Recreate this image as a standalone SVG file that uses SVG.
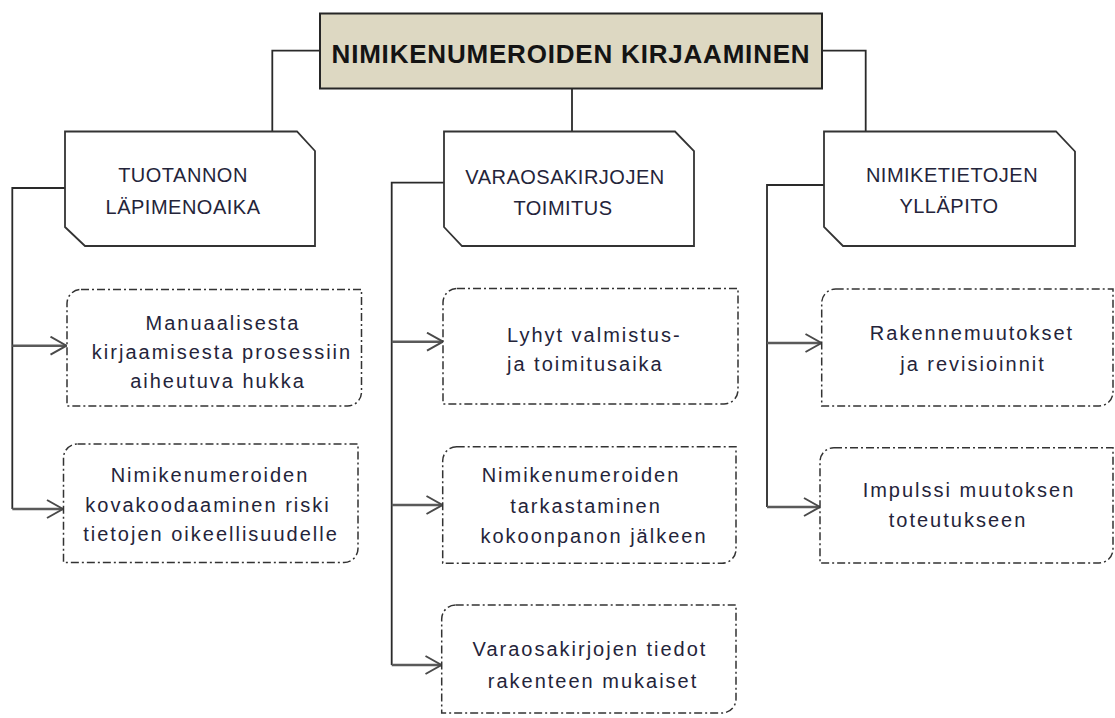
<svg xmlns="http://www.w3.org/2000/svg" width="1115" height="718" viewBox="0 0 1115 718">
  <style>
    .title { font-family: "Liberation Sans", Arial, sans-serif; font-weight: bold; font-size: 26px; letter-spacing: 0.8px; fill: #141414; }
    .cat { font-family: "Liberation Sans", Arial, sans-serif; font-size: 20px; letter-spacing: 0.5px; fill: #24243a; }
    .item { font-family: "Liberation Sans", Arial, sans-serif; font-size: 20px; letter-spacing: 2px; fill: #24243a; }
    .catbox { fill: #ffffff; stroke: #333333; stroke-width: 1.8; }
    .itembox { fill: #ffffff; stroke: #333333; stroke-width: 1.5; stroke-dasharray: 8 3 2 3; }
    .wire { fill: none; stroke: #2a2a2a; stroke-width: 1.8; }
    .branch { fill: none; stroke: #5a5a5a; stroke-width: 2.4; marker-end: url(#chev); }
  </style>
  <defs>
    <marker id="chev" viewBox="0 0 18 20" refX="17" refY="10" markerWidth="18" markerHeight="20" markerUnits="userSpaceOnUse" orient="auto">
      <path d="M1,1 L17,10 L1,19" fill="none" stroke="#4a4a4a" stroke-width="2"/>
    </marker>
  </defs>

  <rect width="1115" height="718" fill="#ffffff"/>

  <!-- connectors -->
  <g id="connectors">
    <!-- title to category boxes -->
    <path class="wire" d="M320,50.7 H272.3 V131.5"/>
    <path class="wire" d="M822,50.7 H865.7 V131.5"/>
    <path class="wire" d="M572,88.5 V131.5"/>
    <!-- trunks -->
    <path class="wire" d="M65,188 H12.3 V509"/>
    <path class="wire" d="M444,182.7 H391.7 V665"/>
    <path class="wire" d="M824,185 H767 V507"/>
    <!-- branches -->
    <path class="branch" d="M12.3,345.7 H66.5"/>
    <path class="branch" d="M12.3,509 H63"/>
    <path class="branch" d="M391.7,341.7 H443"/>
    <path class="branch" d="M391.7,505 H442.5"/>
    <path class="branch" d="M391.7,665 H441.5"/>
    <path class="branch" d="M767,343 H821.5"/>
    <path class="branch" d="M767,507 H820"/>
  </g>

  <!-- root -->
  <g id="root">
    <rect x="320" y="13.5" width="502" height="75" fill="#ddd8c2" stroke="#262626" stroke-width="2"/>
    <text class="title" x="571" y="63" text-anchor="middle">NIMIKENUMEROIDEN KIRJAAMINEN</text>
  </g>

  <!-- categories -->
  <g id="cat-tuotanto">
    <path class="catbox" d="M65,131.5 H297 L315,151 V246 H85 L65,227 Z"/>
    <text class="cat" x="183" y="182" text-anchor="middle">TUOTANNON</text>
    <text class="cat" x="183" y="214" text-anchor="middle">LÄPIMENOAIKA</text>
  </g>
  <g id="cat-varaosa">
    <path class="catbox" d="M444,131.5 H675 L694,151 V246 H462 L444,227 Z"/>
    <text class="cat" x="565" y="184" text-anchor="middle">VARAOSAKIRJOJEN</text>
    <text class="cat" x="563" y="215" text-anchor="middle">TOIMITUS</text>
  </g>
  <g id="cat-nimike">
    <path class="catbox" d="M824,131.5 H1056 L1075,151.5 V246 H843 L824,227 Z"/>
    <text class="cat" x="952" y="182" text-anchor="middle">NIMIKETIETOJEN</text>
    <text class="cat" x="949" y="213" text-anchor="middle">YLLÄPITO</text>
  </g>

  <!-- items: left column -->
  <g id="item-manuaalinen">
    <path class="itembox" d="M81,289.5 H361.5 V392 A14,14 0 0 1 347.5,406 H67 V303.5 A14,14 0 0 1 81,289.5 Z"/>
    <text class="item" x="223" y="330" text-anchor="middle">Manuaalisesta</text>
    <text class="item" x="222" y="359" text-anchor="middle">kirjaamisesta prosessiin</text>
    <text class="item" x="218" y="388" text-anchor="middle">aiheutuva hukka</text>
  </g>
  <g id="item-kovakoodaus">
    <path class="itembox" d="M77.5,444 H358 V548.5 A14,14 0 0 1 344,562.5 H63.5 V458 A14,14 0 0 1 77.5,444 Z"/>
    <text class="item" x="210" y="482" text-anchor="middle">Nimikenumeroiden</text>
    <text class="item" x="208" y="512" text-anchor="middle">kovakoodaaminen riski</text>
    <text class="item" x="211" y="541" text-anchor="middle">tietojen oikeellisuudelle</text>
  </g>

  <!-- items: middle column -->
  <g id="item-lyhyt">
    <path class="itembox" d="M457,288.5 H738 V390 A14,14 0 0 1 724,404 H443 V302.5 A14,14 0 0 1 457,288.5 Z"/>
    <text class="item" x="507" y="342">Lyhyt valmistus-</text>
    <text class="item" x="507" y="371">ja toimitusaika</text>
  </g>
  <g id="item-tarkastus">
    <path class="itembox" d="M456.7,446.7 H736 V549.3 A14,14 0 0 1 722,563.3 H442.7 V460.7 A14,14 0 0 1 456.7,446.7 Z"/>
    <text class="item" x="581" y="482" text-anchor="middle">Nimikenumeroiden</text>
    <text class="item" x="586" y="513" text-anchor="middle">tarkastaminen</text>
    <text class="item" x="594" y="543" text-anchor="middle">kokoonpanon jälkeen</text>
  </g>
  <g id="item-tiedot">
    <path class="itembox" d="M455.7,605 H736 V699 A14,14 0 0 1 722,713 H441.7 V619 A14,14 0 0 1 455.7,605 Z"/>
    <text class="item" x="590" y="656" text-anchor="middle">Varaosakirjojen tiedot</text>
    <text class="item" x="593" y="688" text-anchor="middle">rakenteen mukaiset</text>
  </g>

  <!-- items: right column -->
  <g id="item-rakenne">
    <path class="itembox" d="M835.7,289 H1113 V392 A14,14 0 0 1 1099,406 H821.7 V303 A14,14 0 0 1 835.7,289 Z"/>
    <text class="item" x="972" y="340" text-anchor="middle">Rakennemuutokset</text>
    <text class="item" x="973" y="371" text-anchor="middle">ja revisioinnit</text>
  </g>
  <g id="item-impulssi">
    <path class="itembox" d="M834,447.7 H1113 V549 A14,14 0 0 1 1099,563 H820 V461.7 A14,14 0 0 1 834,447.7 Z"/>
    <text class="item" x="969" y="497" text-anchor="middle">Impulssi muutoksen</text>
    <text class="item" x="958" y="527" text-anchor="middle">toteutukseen</text>
  </g>
</svg>
